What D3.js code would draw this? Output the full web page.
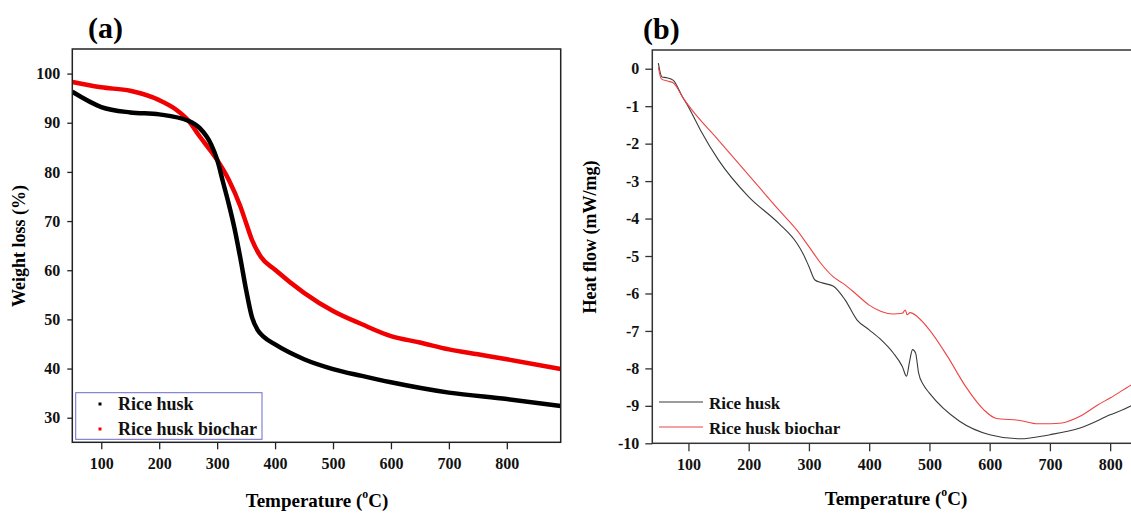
<!DOCTYPE html>
<html>
<head>
<meta charset="utf-8">
<script src="https://cdn.jsdelivr.net/npm/d3@7"></script>
<style>
  body { margin: 0; background: #fff; }
  svg { display: block; font-family: "Liberation Serif", "Times New Roman", serif; font-weight: bold; }
</style>
</head>
<body>
<div class="module"></div>
<script>
// ---- panel (a) TGA : temperature (C) vs weight loss (%)
const tgaHuskT = [50, 100, 150, 200, 250, 270, 290, 300, 310, 320, 330, 340, 350, 360, 370, 380, 400, 450, 500, 550, 600, 700, 800, 893];
const tgaHuskW = [96.3, 93.2, 92.1, 91.7, 90.4, 88.9, 85.5, 82.5, 78.0, 73.5, 68.5, 62.5, 56.0, 50.5, 47.8, 46.5, 44.9, 41.9, 39.9, 38.5, 37.2, 35.1, 33.8, 32.4];
const tgaCharT = [50, 100, 150, 200, 230, 250, 270, 290, 300, 320, 340, 350, 360, 375, 400, 450, 500, 550, 600, 650, 700, 750, 800, 893];
const tgaCharW = [98.3, 97.2, 96.5, 94.6, 92.6, 90.5, 87.2, 84.1, 82.4, 78.4, 73.0, 69.6, 66.2, 62.8, 60.1, 55.4, 51.7, 49.0, 46.6, 45.3, 43.9, 42.9, 41.9, 39.9];
const tgaTicksX = [100, 200, 300, 400, 500, 600, 700, 800];
const tgaTicksY = [30, 40, 50, 60, 70, 80, 90, 100];

// ---- panel (b) DSC : temperature (C) vs heat flow (mW/mg)
const dscHuskT = [50, 56, 64, 75, 90, 100, 120, 150, 200, 250, 280, 290, 300, 310, 320, 340, 360, 380, 400, 420, 440, 455, 462, 467, 472, 477, 482, 490, 500, 550, 600, 650, 700, 750, 800, 835, 850];
const dscHuskH = [0.15, -0.22, -0.24, -0.31, -0.75, -1.02, -1.64, -2.44, -3.42, -4.13, -4.66, -4.93, -5.28, -5.64, -5.71, -5.80, -6.17, -6.71, -6.97, -7.24, -7.59, -7.95, -8.21, -7.82, -7.50, -7.59, -8.12, -8.44, -8.66, -9.41, -9.77, -9.88, -9.77, -9.59, -9.24, -9.0, -8.85];
const dscCharT = [50, 55, 65, 75, 90, 100, 150, 200, 250, 280, 300, 320, 340, 360, 380, 400, 420, 440, 455, 460, 463, 468, 480, 500, 530, 560, 590, 610, 650, 680, 700, 720, 750, 780, 800, 835, 850];
const dscCharH = [0.04, -0.27, -0.33, -0.38, -0.75, -0.98, -1.91, -2.84, -3.77, -4.31, -4.75, -5.20, -5.55, -5.77, -6.04, -6.31, -6.48, -6.55, -6.53, -6.44, -6.57, -6.51, -6.62, -6.97, -7.68, -8.48, -9.10, -9.33, -9.39, -9.48, -9.48, -9.46, -9.28, -8.97, -8.79, -8.44, -8.3];
const dscTicksX = [100, 200, 300, 400, 500, 600, 700, 800];
const dscTicksY = [0, -1, -2, -3, -4, -5, -6, -7, -8, -9, -10];

const seriesNames = ["Rice husk", "Rice husk biochar"];

const W = 1131, H = 514;
const svg = d3.select('.module').append('svg').attr('width', W).attr('height', H);

function zip(xs, ys) { return xs.map((x, i) => ({x: x, y: ys[i]})); }
const plain = d => String(d); // hyphen minus, like the original

function tempTitle(g, cx, cy, size) {
	const t = g.append('text').attr('x', cx).attr('y', cy)
		.attr('text-anchor', 'middle').style('font-size', size + 'px');
	t.append('tspan').text('Temperature (');
	t.append('tspan').text('o').style('font-size', (size * 0.62) + 'px').attr('dy', -size * 0.45);
	t.append('tspan').text('C)').attr('dy', size * 0.45);
}

// ---------- (a)
{
	const L = 72.3, R = 560.7, T = 49, B = 442.3;
	const x = d3.scaleLinear().domain([50, 893]).range([L, R]);
	const y = d3.scaleLinear().domain([25, 105]).range([B, T]);
	const g = svg.append('g');

	g.append('clipPath').attr('id', 'clipA').append('rect')
		.attr('x', L).attr('y', T).attr('width', R - L).attr('height', B - T);

	const line = d3.line().x(d => x(d.x)).y(d => y(d.y)).curve(d3.curveMonotoneX);
	g.append('path').datum(zip(tgaCharT, tgaCharW)).attr('d', line)
		.attr('clip-path', 'url(#clipA)')
		.style('fill', 'none').style('stroke', '#f00000').style('stroke-width', 4.5);
	g.append('path').datum(zip(tgaHuskT, tgaHuskW)).attr('d', line)
		.attr('clip-path', 'url(#clipA)')
		.style('fill', 'none').style('stroke', '#000').style('stroke-width', 4.5);

	g.append('g').attr('transform', `translate(0,${B})`)
		.call(d3.axisBottom(x).tickValues(tgaTicksX).tickFormat(plain).tickSize(7).tickPadding(8).tickSizeOuter(0))
		.call(a => a.select('.domain').remove());
	g.append('g').attr('transform', `translate(${L},0)`)
		.call(d3.axisLeft(y).tickValues(tgaTicksY).tickFormat(plain).tickSize(5).tickPadding(7).tickSizeOuter(0))
		.call(a => a.select('.domain').remove());
	g.selectAll('.tick text').style('font-size', '16px').style('font-family', 'Liberation Serif').style('font-weight', 'bold').attr('fill', '#111');
	g.selectAll('.tick line').attr('stroke', '#222').attr('stroke-width', 1.3);

	g.append('rect').attr('x', L).attr('y', T).attr('width', R - L).attr('height', B - T)
		.style('fill', 'none').style('stroke', '#222').style('stroke-width', 1.5);

	// legend
	g.append('rect').attr('x', 75.7).attr('y', 392.7).attr('width', 186.3).attr('height', 46.6)
		.style('fill', '#fff').style('stroke', '#6a6acb').style('stroke-width', 1);
	const colA = ['#000', '#f00000'];
	seriesNames.forEach((n, i) => {
		g.append('rect').attr('x', 98.5).attr('y', 402.5 + i * 25).attr('width', 3).attr('height', 3).style('fill', colA[i]);
		g.append('text').attr('x', 118).attr('y', 410 + i * 24.5).text(n).style('font-size', '18px').attr('fill', '#111');
	});

	g.append('text').attr('x', 88).attr('y', 38).text('(a)').style('font-size', '30px');
	tempTitle(g, 317, 507, 19);
	g.append('text').attr('transform', 'translate(25,246) rotate(-90)')
		.attr('text-anchor', 'middle').style('font-size', '18px').text('Weight loss (%)');
}

// ---------- (b)
{
	const L = 652.3, R = 1170.4, T = 50, B = 443.3;
	const x = d3.scaleLinear().domain([40, 900]).range([L, R]);
	const y = d3.scaleLinear().domain([-10, 0.5]).range([B, T]);
	const g = svg.append('g');

	g.append('clipPath').attr('id', 'clipB').append('rect')
		.attr('x', L).attr('y', T).attr('width', R - L).attr('height', B - T);

	const line = d3.line().x(d => x(d.x)).y(d => y(d.y)).curve(d3.curveMonotoneX);
	g.append('path').datum(zip(dscHuskT, dscHuskH)).attr('d', line)
		.attr('clip-path', 'url(#clipB)')
		.style('fill', 'none').style('stroke', '#3a3a3a').style('stroke-width', 1.1);
	g.append('path').datum(zip(dscCharT, dscCharH)).attr('d', line)
		.attr('clip-path', 'url(#clipB)')
		.style('fill', 'none').style('stroke', '#ee4444').style('stroke-width', 1.1);

	g.append('g').attr('transform', `translate(0,${B})`)
		.call(d3.axisBottom(x).tickValues(dscTicksX).tickFormat(plain).tickSize(8).tickPadding(7).tickSizeOuter(0))
		.call(a => a.select('.domain').remove());
	g.append('g').attr('transform', `translate(${L},0)`)
		.call(d3.axisLeft(y).tickValues(dscTicksY).tickFormat(plain).tickSize(7).tickPadding(6).tickSizeOuter(0))
		.call(a => a.select('.domain').remove());
	g.selectAll('.tick text').style('font-size', '16px').style('font-family', 'Liberation Serif').style('font-weight', 'bold').attr('fill', '#111');
	g.selectAll('.tick line').attr('stroke', '#333').attr('stroke-width', 1.3);

	g.append('rect').attr('x', L).attr('y', T).attr('width', R - L).attr('height', B - T)
		.style('fill', 'none').style('stroke', '#333').style('stroke-width', 1.5);

	const colB = ['#3a3a3a', '#ee4444'];
	seriesNames.forEach((n, i) => {
		g.append('line').attr('x1', 659).attr('x2', 703).attr('y1', 402 + i * 25).attr('y2', 402 + i * 25)
			.style('stroke', colB[i]).style('stroke-width', 1.1);
		g.append('text').attr('x', 709).attr('y', 409 + i * 25).text(n).style('font-size', '17px').attr('fill', '#111');
	});

	g.append('text').attr('x', 643).attr('y', 39).text('(b)').style('font-size', '30px');
	tempTitle(g, 896, 505, 19);
	g.append('text').attr('transform', 'translate(596,237) rotate(-90)')
		.attr('text-anchor', 'middle').style('font-size', '18px').text('Heat flow (mW/mg)');
}
</script>
</body>
</html>
